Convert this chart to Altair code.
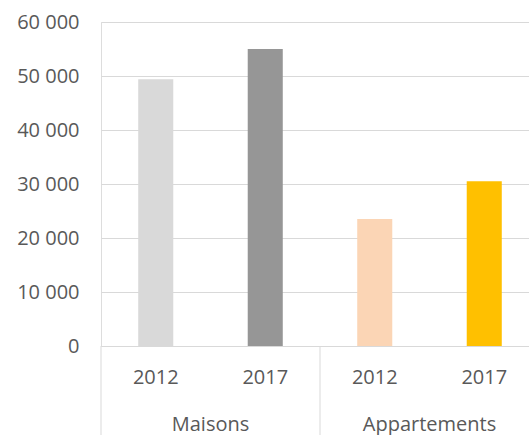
import altair as alt
import pandas as pd

groups = ["Maisons", "Maisons", "Appartements", "Appartements"]
years = ["2012", "2017", "2012", "2017"]
values = [49400, 55000, 23500, 30500]
colors = ["#D9D9D9", "#969696", "#FBD5B5", "#FFC000"]
group_names = ["Maisons", "Appartements"]
y_ticks = [0, 10000, 20000, 30000, 40000, 50000, 60000]

FONT = "Open Sans"
FS = 20
TXT = "#595959"
GRID = "#D9D9D9"

df = pd.DataFrame({"group": groups, "year": years, "value": values, "color": colors})
df["key"] = df["group"] + " " + df["year"]
gdf = pd.DataFrame({"group": group_names})

RANGE = [0, 438]

bars = alt.Chart(df).mark_bar().encode(
    x=alt.X("key:N", sort=list(df["key"]),
            scale=alt.Scale(range=RANGE, paddingInner=0.68, paddingOuter=0.34),
            axis=alt.Axis(title=None, labelExpr="split(datum.label, ' ')[1]",
                          ticks=False, domainColor=GRID, domainWidth=1,
                          labelFont=FONT, labelFontSize=FS, labelColor=TXT,
                          labelBaseline="middle", labelPadding=31, labelAngle=0)),
    y=alt.Y("value:Q", scale=alt.Scale(domain=[0, 60000], nice=False),
            axis=alt.Axis(title=None, values=y_ticks, domain=False, ticks=False,
                          gridColor=GRID, gridWidth=1,
                          labelExpr="datum.value == 0 ? '0' : format(datum.value / 1000, 'd') + ' 000'",
                          labelFont=FONT, labelFontSize=FS, labelColor=TXT,
                          labelPadding=22)),
    color=alt.Color("color:N", scale=None),
)

gscale = alt.Scale(range=RANGE, paddingInner=0, paddingOuter=0)

glabels = alt.Chart(gdf).mark_text(font=FONT, fontSize=FS, color=TXT, baseline="middle").encode(
    x=alt.X("group:N", sort=group_names, scale=gscale, axis=None),
    y=alt.value(403),
    text="group:N",
)

seps = alt.Chart(gdf).mark_rule(color=GRID, strokeWidth=1).encode(
    x=alt.X("group:N", sort=group_names, scale=gscale, axis=None, bandPosition=0),
    y=alt.value(324),
    y2=alt.value(413),
)

chart = alt.layer(bars, seps, glabels).resolve_scale(x="independent").properties(
    width=428, height=324,
    padding={"left": 101, "top": 22, "right": 0, "bottom": 89},
    autosize="none",
).configure_view(stroke=None).configure(background="white")

chart.save("out.html", embed_options={"renderer": "svg", "actions": False})
